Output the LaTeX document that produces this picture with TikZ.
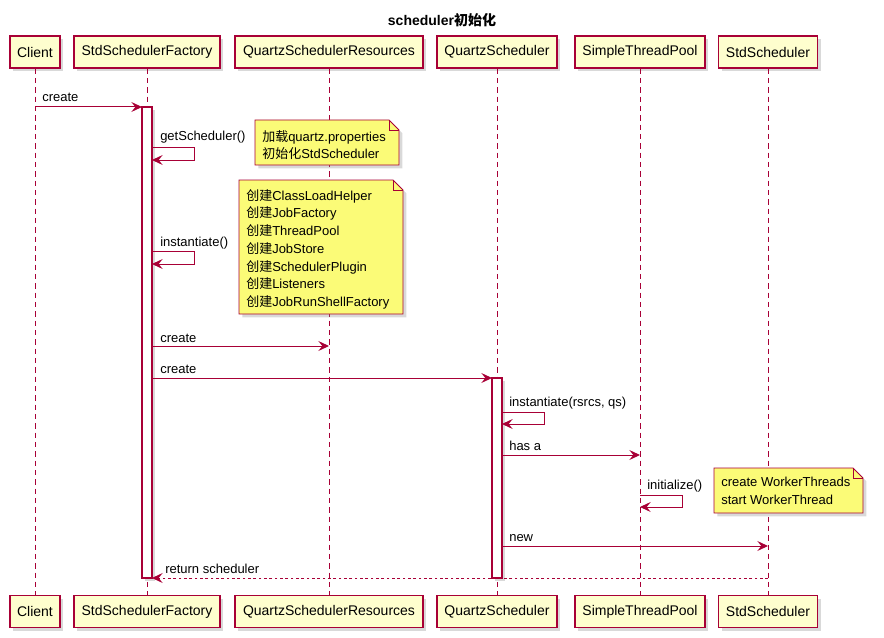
\documentclass[tikz,border=0pt]{standalone}
\usepackage{fontspec}
\setmainfont{Liberation Sans}
\newfontfamily\cjk{Noto Sans CJK SC}
\usetikzlibrary{arrows.meta,shadows}
\definecolor{umlred}{HTML}{A80036}
\definecolor{partfill}{HTML}{FEFECE}
\definecolor{notefill}{HTML}{FBFB77}
\newcommand{\zh}[1]{{\cjk #1}}
\tikzset{
  part/.style={draw=umlred, fill=partfill, line width=0.9pt, minimum height=24pt, inner sep=0pt,
    font=\fontsize{10.5}{12}\selectfont,
    drop shadow={shadow xshift=2.5pt, shadow yshift=-2.5pt, opacity=0.3}},
  life/.style={draw=umlred, line width=0.6pt, dash pattern=on 4pt off 3pt},
  act/.style={draw=umlred, fill=white, line width=0.8pt,
    drop shadow={shadow xshift=2pt, shadow yshift=-2pt, opacity=0.3}},
  msg/.style={draw=umlred, line width=0.75pt, -{Stealth[length=8pt, width=7.5pt, inset=3pt]}},
  ret/.style={msg, dash pattern=on 2pt off 2pt},
  lbl/.style={font=\fontsize{9.75}{12}\selectfont, anchor=base west, inner sep=0pt},
  note/.style={draw=umlred, fill=notefill, line width=0.7pt,
    drop shadow={shadow xshift=2.5pt, shadow yshift=-2.5pt, opacity=0.3}},
  notetxt/.style={font=\fontsize{9.75}{13.3}\selectfont, align=left, anchor=north west, inner sep=0pt},
  ttl/.style={font=\fontsize{10.5}{12}\selectfont\bfseries}
}
% note with folded corner: x1, y1, x2, y2
\newcommand{\notebox}[4]{%
  \draw[note] (#1,#2) -- (#3-10,#2) -- (#3,#2+10) -- (#3,#4) -- (#1,#4) -- cycle;
  \draw[umlred, line width=0.7pt] (#3-10,#2) -- (#3-10,#2+10) -- (#3,#2+10);}
\begin{document}
\begin{tikzpicture}[x=0.75pt, y=-0.75pt]
  \useasboundingbox (0,0) rectangle (884,638);
  \node[ttl] (title) at (442,20) {scheduler\zh{初始化}};

  % participants, top and bottom
  \node[part, minimum width=37.5pt] (client) at (35,52) {Client};
  \node[part, minimum width=109.5pt] (factory) at (147,52) {StdSchedulerFactory};
  \node[part, minimum width=141pt] (resources) at (329,52) {QuartzSchedulerResources};
  \node[part, minimum width=90pt] (qsched) at (497,52) {QuartzScheduler};
  \node[part, minimum width=97.5pt] (pool) at (640,52) {SimpleThreadPool};
  \node[part, minimum width=74.25pt] (stdsched) at (768,52) {StdScheduler};

  \node[part, minimum width=37.5pt] (client-b) at (35,611.5) {Client};
  \node[part, minimum width=109.5pt] (factory-b) at (147,611.5) {StdSchedulerFactory};
  \node[part, minimum width=141pt] (resources-b) at (329,611.5) {QuartzSchedulerResources};
  \node[part, minimum width=90pt] (qsched-b) at (497,611.5) {QuartzScheduler};
  \node[part, minimum width=97.5pt] (pool-b) at (640,611.5) {SimpleThreadPool};
  \node[part, minimum width=74.25pt] (stdsched-b) at (768,611.5) {StdScheduler};

  % lifelines
  \foreach \p in {client,factory,resources,qsched,pool,stdsched}
    \draw[life] (\p.south) -- (\p-b.north);

  % activations
  \draw[act] (142,107) rectangle (152,578);
  \draw[act] (492,378) rectangle (502,578);

  % message ends
  \coordinate (crA) at (35,107);   \coordinate (crB) at (142,107);
  \coordinate (gsA) at (152,148);  \coordinate (gsB) at (152,160);
  \coordinate (inA) at (152,251);  \coordinate (inB) at (152,264);
  \coordinate (rsA) at (152,346);  \coordinate (rsB) at (329,346);
  \coordinate (qsA) at (152,378);  \coordinate (qsB) at (492,378);
  \coordinate (iqA) at (502,412);  \coordinate (iqB) at (502,424);
  \coordinate (haA) at (502,455);  \coordinate (haB) at (640,455);
  \coordinate (ipA) at (640,495);  \coordinate (ipB) at (640,507);
  \coordinate (nwA) at (502,546);  \coordinate (nwB) at (768,546);
  \coordinate (rtA) at (768,578);  \coordinate (rtB) at (152,578);

  \draw[msg] (crA) -- (crB);
  \draw[msg] (gsA) -- ++(42,0) |- (gsB);
  \draw[msg] (inA) -- ++(42,0) |- (inB);
  \draw[msg] (rsA) -- (rsB);
  \draw[msg] (qsA) -- (qsB);
  \draw[msg] (iqA) -- ++(42,0) |- (iqB);
  \draw[msg] (haA) -- (haB);
  \draw[msg] (ipA) -- ++(42,0) |- (ipB);
  \draw[msg] (nwA) -- (nwB);
  \draw[ret] (rtA) -- (rtB);

  \node[lbl] (l1) at (42,102) {create};
  \node[lbl] (l2) at (160,141) {getScheduler()};
  \node[lbl] (l3) at (160,246) {instantiate()};
  \node[lbl] (l4) at (160,342) {create};
  \node[lbl] (l5) at (160,373) {create};
  \node[lbl] (l6) at (509,406) {instantiate(rsrcs, qs)};
  \node[lbl] (l7) at (509,450) {has a};
  \node[lbl] (l8) at (647,489) {initialize()};
  \node[lbl] (l9) at (509,541) {new};
  \node[lbl] (l10) at (165,573) {return scheduler};

  % notes
  \notebox{255}{120}{399}{165}
  \node[notetxt] (n1) at (262,130) {\zh{加载}quartz.properties\\\zh{初始化}StdScheduler};
  \notebox{239}{180}{403}{314}
  \node[notetxt] (n2) at (246,189) {\zh{创建}ClassLoadHelper\\\zh{创建}JobFactory\\\zh{创建}ThreadPool\\
    \zh{创建}JobStore\\\zh{创建}SchedulerPlugin\\\zh{创建}Listeners\\\zh{创建}JobRunShellFactory};
  \notebox{714}{468}{863}{513}
  \node[notetxt] (n3) at (721,477) {create WorkerThreads\\start WorkerThread};
\end{tikzpicture}
\end{document}
